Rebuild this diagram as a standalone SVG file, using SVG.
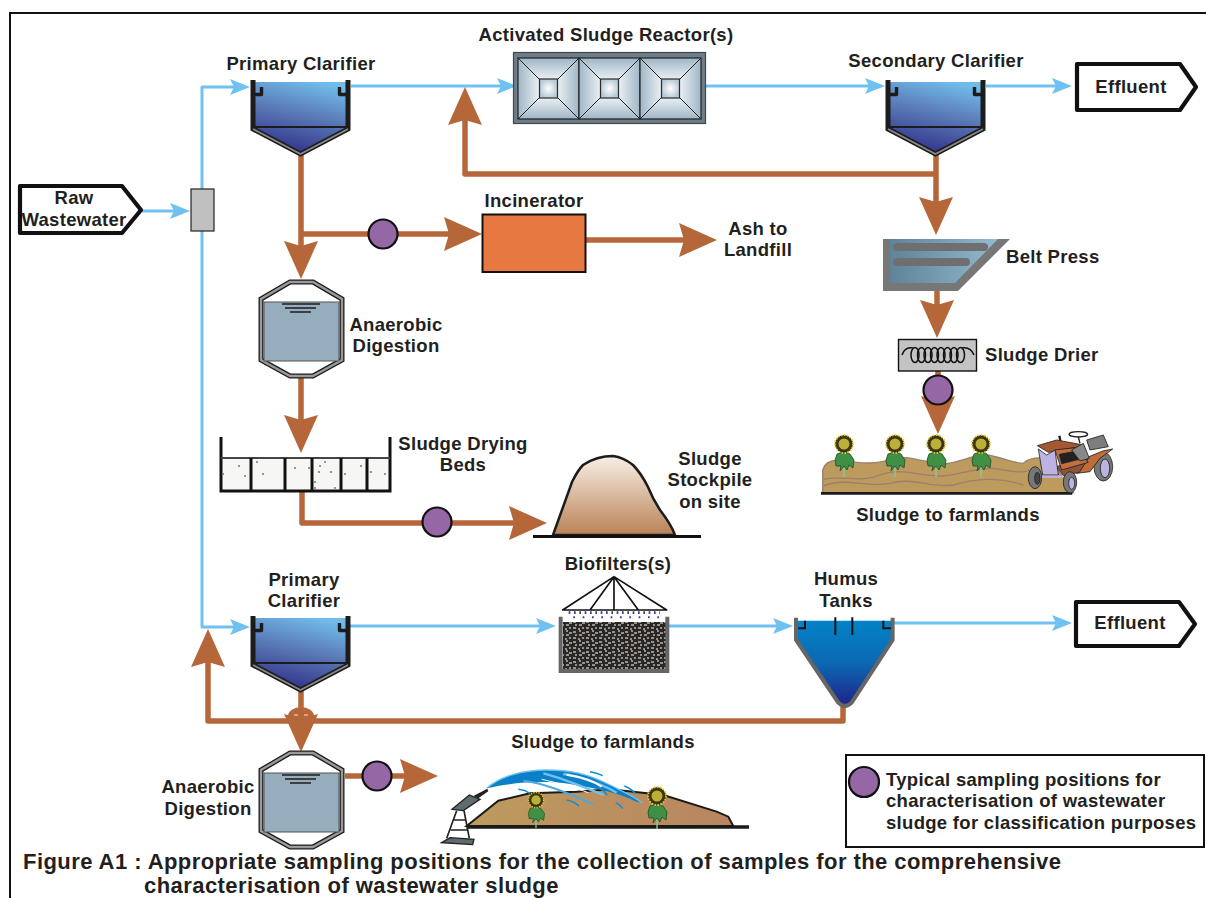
<svg xmlns="http://www.w3.org/2000/svg" width="1206" height="898" viewBox="0 0 1206 898">
<style>
text{font-family:"Liberation Sans",Arial,sans-serif;font-weight:bold;fill:#231f20;font-size:18.5px;letter-spacing:.3px}
.m{text-anchor:middle}
.c{font-size:22px;letter-spacing:.44px}
.b{fill:none;stroke:#b5673a;stroke-width:5.5;stroke-linejoin:round;marker-end:url(#hb)}
.w{fill:none;stroke:#6ec1f0;stroke-width:3;stroke-linejoin:round;marker-end:url(#hw)}
.s{fill:#9567a5;stroke:#111;stroke-width:2.2}
.tag{fill:#fff;stroke:#111;stroke-width:4.2;stroke-linejoin:round}
</style>
<defs>
<marker id="hb" markerUnits="userSpaceOnUse" markerWidth="38" markerHeight="34" refX="5" refY="17" orient="auto"><path d="M0,0 L38,17 L0,34 L5,17Z" fill="#b5673a"/></marker>
<marker id="hw" markerUnits="userSpaceOnUse" markerWidth="20" markerHeight="16" refX="4" refY="8" orient="auto"><path d="M0,0 L20,8 L0,16 L4,8Z" fill="#6ec1f0"/></marker>
<linearGradient id="cl" x1="0.65" y1="0" x2="0.35" y2="1"><stop offset="0" stop-color="#70bbea"/><stop offset=".45" stop-color="#5a79b6"/><stop offset="1" stop-color="#2f2e88"/></linearGradient>
<linearGradient id="hum" x1="0" y1="0" x2="0" y2="1"><stop offset="0" stop-color="#0382c8"/><stop offset=".5" stop-color="#0b69b2"/><stop offset="1" stop-color="#20238a"/></linearGradient>
<linearGradient id="pile" x1="0" y1="0" x2="0" y2="1"><stop offset="0" stop-color="#f8efe6"/><stop offset="1" stop-color="#b98257"/></linearGradient>
<linearGradient id="soil" x1="0" y1="0" x2="1" y2="0"><stop offset="0" stop-color="#bd9b5e"/><stop offset="1" stop-color="#b98560"/></linearGradient>
<linearGradient id="belt" x1="0" y1="0" x2="1" y2="0"><stop offset="0" stop-color="#5f8399"/><stop offset="1" stop-color="#93bacf"/></linearGradient>
<linearGradient id="rl" x1="0" y1="0" x2="1" y2="0"><stop offset="0" stop-color="#9fb6c6"/><stop offset="1" stop-color="#e8eff3"/></linearGradient>
<linearGradient id="rr" x1="1" y1="0" x2="0" y2="0"><stop offset="0" stop-color="#9fb6c6"/><stop offset="1" stop-color="#e8eff3"/></linearGradient>
<linearGradient id="rt" x1="0" y1="0" x2="0" y2="1"><stop offset="0" stop-color="#9fb6c6"/><stop offset="1" stop-color="#e8eff3"/></linearGradient>
<linearGradient id="rb" x1="0" y1="1" x2="0" y2="0"><stop offset="0" stop-color="#9fb6c6"/><stop offset="1" stop-color="#e8eff3"/></linearGradient>
<radialGradient id="rc"><stop offset="0" stop-color="#fff"/><stop offset="1" stop-color="#b9cad5"/></radialGradient>
<pattern id="media" width="13" height="10" patternUnits="userSpaceOnUse"><rect width="13" height="10" fill="#2a2623"/><path d="M1,2h3M7,1h2M10,3h3M3,5h2M7,5h3M1,8h3M6,9h2M10,8h2" stroke="#fff" stroke-width="1"/></pattern>
<g id="clar">
<path d="M4,2 V48 L51.500,74 L99,48 V2Z" fill="url(#cl)"/>
<path d="M4,0 V49 L51.500,74 L99,49 V0" fill="none" stroke="#1c1c1c" stroke-width="5"/>
<path d="M4,49 L51.500,74 L99,49" fill="none" stroke="#8a8a8a" stroke-width="1.8"/>
<path d="M4,47 H99" stroke="#1c1c1c" stroke-width="1.8"/>
<path d="M6,14.500 H12.500 V7" fill="none" stroke="#1c1c1c" stroke-width="3.400" stroke-linejoin="round"/>
<path d="M97,14.500 H90.500 V7" fill="none" stroke="#1c1c1c" stroke-width="3.400" stroke-linejoin="round"/>
</g>
<g id="dig">
<path d="M30,1 H53 L82,18 V79 L53,95 H30 L1,79 V18Z" fill="#fff" stroke="#1c1c1c" stroke-width="5"/>
<path d="M30,1 H53 L82,18 V79 L53,95 H30 L1,79 V18Z" fill="none" stroke="#9a9a9a" stroke-width="2.400"/>
<rect x="4" y="21" width="75" height="59" fill="#95adbd" stroke="#555" stroke-width="1"/>
<path d="M22,23H60M25,27H56M30,31H51" stroke="#1c1c1c" stroke-width="1.3"/>
</g>
<g id="cell">
<polygon points="0,0 21,21 21,40 0,61" fill="url(#rl)"/>
<polygon points="61,0 40,21 40,40 61,61" fill="url(#rr)"/>
<polygon points="0,0 61,0 40,21 21,21" fill="url(#rt)"/>
<polygon points="0,61 61,61 40,40 21,40" fill="url(#rb)"/>
<rect x="21.500" y="21" width="18" height="19" fill="url(#rc)" stroke="#2a2a2a" stroke-width="1.2"/>
<path d="M0,0L21,21M61,0L40,21M0,61L21,40M61,61L40,40" stroke="#222" stroke-width="1"/>
<rect width="61" height="61" fill="none" stroke="#222" stroke-width="1.2"/>
</g>
<g id="flower">
<path d="M0,10V33" stroke="#8ac78f" stroke-width="1.5"/>
<path d="M-1,8 L-7,10 L-9,16 L-8,22 L-3,22 L-4,27 L0,22 L3,26 L5,21 L9,24 L10,16 L6,10 L1,8Z" fill="#3f8f45" stroke="#1f4d27" stroke-width=".8"/>
<circle r="9" fill="#3b3418" stroke="#e5cb2b" stroke-width="1.8" stroke-dasharray="1.5 1.5"/>
<circle r="5.500" fill="#bcb036"/>
</g>
</defs>

<path d="M10,898 V13 H1206" fill="none" stroke="#111" stroke-width="2"/>

<g id="connectors">
<path class="w" d="M142,211H174"/>
<path class="w" d="M202,189V87H234"/>
<path class="w" d="M202,231V627H234"/>
<path class="w" d="M351,86H501"/>
<path class="w" d="M706,86H869"/>
<path class="w" d="M986,86H1056"/>
<path class="w" d="M350,626H540"/>
<path class="w" d="M669,626H777"/>
<path class="w" d="M893,623H1056"/>
<path class="b" d="M301,155V246"/>
<path class="b" d="M301,234H449"/>
<path class="b" d="M586,240H684"/>
<path class="b" d="M936,155V202"/>
<path class="b" d="M936,174H465V120"/>
<path class="b" d="M937,291V305"/>
<path class="b" d="M938,371V401"/>
<path class="b" d="M301,375V420"/>
<path class="b" d="M302,490V523H514"/>
<path class="b" d="M843,707V721H208V662"/>
<ellipse cx="301" cy="716" rx="13" ry="9" fill="#b5673a"/>
<path class="b" d="M301,690V719"/>
<path d="M294,715h4M304,715h4" stroke="#f3e2d6" stroke-width="1"/>
<path class="b" d="M345,776H405"/>
</g>

<g id="raw-wastewater"><polygon class="tag" points="20,186 122,186 141,210 122,233 20,233"/><text class="m" x="74" y="204">Raw</text><text class="m" x="74" y="226">Wastewater</text></g>
<g id="splitter"><rect x="191" y="189" width="23" height="42" fill="#c0c0c0" stroke="#222" stroke-width="1.2"/></g>
<g id="primary-clarifier-1"><use href="#clar" x="249" y="80"/><text class="m" x="301" y="70">Primary Clarifier</text></g>
<g id="reactor"><rect x="513.500" y="52.500" width="192" height="71" fill="#6e7e88" stroke="#3c464c" stroke-width="1.2"/><use href="#cell" x="518" y="58"/><use href="#cell" x="579" y="58"/><use href="#cell" x="640" y="58"/><text class="m" x="606" y="41">Activated Sludge Reactor(s)</text></g>
<g id="secondary-clarifier"><use href="#clar" x="884" y="80"/><text class="m" x="936" y="67">Secondary Clarifier</text></g>
<g id="effluent-1"><polygon class="tag" points="1077,64 1180,64 1196,87 1180,110 1077,110"/><text class="m" x="1131" y="93">Effluent</text></g>
<g id="incinerator"><rect x="482.500" y="214.500" width="103" height="57.500" fill="#e77841" stroke="#111" stroke-width="2"/><text class="m" x="534" y="207">Incinerator</text></g>
<g id="ash"><text class="m" x="758" y="235">Ash to</text><text class="m" x="758" y="256">Landfill</text></g>
<g id="digester-1"><use href="#dig" x="260" y="281"/><text class="m" x="396" y="331">Anaerobic</text><text class="m" x="396" y="352">Digestion</text></g>
<g id="belt-press"><polygon points="883,239 1010,239 958,291 883,291" fill="#777"/><polygon points="890,239 998,239 955,283 890,283" fill="url(#belt)"/><rect x="893" y="243" width="95" height="8" rx="4" fill="#6f6f6f"/><rect x="893" y="258" width="77" height="8" rx="4" fill="#6f6f6f"/><text x="1006" y="263">Belt Press</text></g>
<g id="sludge-drier"><rect x="898.500" y="339.500" width="78" height="31.500" fill="#c3c3c3" stroke="#111" stroke-width="1.4"/>
<g fill="none" stroke="#111" stroke-width="1.5"><ellipse cx="915" cy="355" rx="4" ry="7.500"/><ellipse cx="921.500" cy="355" rx="4" ry="7.500"/><ellipse cx="928" cy="355" rx="4" ry="7.500"/><ellipse cx="934.500" cy="355" rx="4" ry="7.500"/><ellipse cx="941" cy="355" rx="4" ry="7.500"/><ellipse cx="947.500" cy="355" rx="4" ry="7.500"/><ellipse cx="954" cy="355" rx="4" ry="7.500"/><ellipse cx="960.500" cy="355" rx="4" ry="7.500"/><path d="M902,355 C904,349 908,347 913,348M962,348 C968,347 972,350 974,355"/></g>
<text x="985" y="361">Sludge Drier</text></g>
<g id="farm"><g transform="translate(810 420) scale(.3333)">
<path d="M38,218 V150 C45,125 70,118 100,122 C150,130 200,135 250,115 C290,105 330,125 400,132 C450,130 480,105 530,105 C570,110 610,130 640,130 C655,112 690,112 720,115 L790,218Z" fill="#bd9b5e" stroke="#9b8169" stroke-width="4"/>
<path d="M40,178 C100,165 150,190 210,165 C280,140 320,170 400,168 C470,160 520,135 580,150 C620,155 640,160 660,150M40,198 C110,170 170,205 240,190 C310,170 360,205 430,195 C500,175 560,170 640,195" fill="none" stroke="#9b8169" stroke-width="4"/>
<path d="M33,220H787" stroke="#1a1a1a" stroke-width="8"/></g>
<g transform="translate(1020 425) scale(.3333)" stroke="#222" stroke-width="2.500" stroke-linejoin="round">
<ellipse cx="250" cy="125" rx="28" ry="43" fill="#777"/><ellipse cx="255" cy="130" rx="14" ry="28" fill="#bdb3e3"/>
<ellipse cx="175" cy="28" rx="28" ry="8" fill="none" stroke-width="4"/><path d="M175,36 L180,55" fill="none" stroke-width="4"/>
<path d="M118,32 L122,52" fill="none" stroke-width="7"/>
<polygon points="200,45 250,30 265,65 210,75" fill="#7d7d7d"/>
<polygon points="52,62 110,45 190,60 165,68 85,82" fill="#a35733"/>
<polygon points="195,100 248,78 278,72 240,100 210,140 170,145" fill="#bf6c3a"/>
<polygon points="110,125 165,105 205,100 178,142 130,152" fill="#8f5434"/>
<polygon points="105,75 165,68 205,112 125,135" fill="#c0703d"/>
<polygon points="118,88 160,80 178,103 125,116" fill="#222"/>
<polygon points="155,75 190,55 208,100 180,108" fill="#888"/>
<polygon points="55,72 80,90 105,75 115,150 68,150" fill="#bdb3e3"/>
<path d="M60,155H130" stroke="#bdb3e3" stroke-width="7"/>
<ellipse cx="45" cy="158" rx="20" ry="33" fill="#777"/><ellipse cx="52" cy="160" rx="8" ry="18" fill="#444"/>
<ellipse cx="150" cy="172" rx="20" ry="32" fill="#777"/><ellipse cx="155" cy="175" rx="9" ry="18" fill="#bdb3e3"/>
</g>
<use href="#flower" x="844" y="444"/><use href="#flower" x="895" y="444"/><use href="#flower" x="936" y="444"/><use href="#flower" x="981" y="444"/>
<text class="m" x="948" y="521">Sludge to farmlands</text></g>
<g id="drying-beds"><rect x="221" y="458" width="169" height="32" fill="#f6f6f4"/><path d="M221,437V491H390V437" fill="none" stroke="#111" stroke-width="3"/><path d="M221,458H390" stroke="#444" stroke-width="2"/><path d="M251,458V490M285,458V490M312,458V490M341,458V490M367,458V490" stroke="#111" stroke-width="3"/>
<g fill="#777"><circle cx="223" cy="474" r="1"/><circle cx="239" cy="466" r="1"/><circle cx="245" cy="476" r="1"/><circle cx="257" cy="462" r="1"/><circle cx="263" cy="474" r="1"/><circle cx="295" cy="468" r="1"/><circle cx="309" cy="468" r="1"/><circle cx="320" cy="466" r="1"/><circle cx="325" cy="462" r="1"/><circle cx="319" cy="472" r="1"/><circle cx="331" cy="472" r="1"/><circle cx="315" cy="482" r="1"/><circle cx="315" cy="488" r="1"/><circle cx="335" cy="488" r="1"/><circle cx="345" cy="474" r="1"/><circle cx="361" cy="466" r="1"/><circle cx="371" cy="472" r="1"/><circle cx="385" cy="474" r="1"/></g>
<text class="m" x="463" y="450">Sludge Drying</text><text class="m" x="463" y="471">Beds</text></g>
<g id="stockpile"><path d="M553,535 L572,482 C577,472 580,468 583,465 C595,457 605,456 613,456 C622,457 628,461 633,465 C640,472 645,481 648,487 C652,497 656,504 660,510 C667,519 672,527 675,535Z" fill="url(#pile)" stroke="#1c1c1c" stroke-width="2.500"/><path d="M533,536.500H701" stroke="#111" stroke-width="3"/><text class="m" x="710" y="465">Sludge</text><text class="m" x="710" y="486">Stockpile</text><text class="m" x="710" y="508">on site</text></g>
<g id="primary-clarifier-2"><use href="#clar" x="249" y="616"/><text class="m" x="304" y="586">Primary</text><text class="m" x="304" y="607">Clarifier</text></g>
<g id="biofilter"><rect x="563" y="622" width="103" height="48" fill="url(#media)"/><g transform="translate(540 560) scale(.3333)">
<path d="M62,170V333H382V170" fill="none" stroke="#666" stroke-width="12"/>
<path d="M68,150L222,50L380,150ZM150,150L222,50L295,150M222,50V150" fill="none" stroke="#111" stroke-width="5" stroke-linejoin="round"/>
<path d="M86,158H360" stroke="#3a3a90" stroke-width="8" stroke-dasharray="5 11"/><path d="M100,172H360" stroke="#3a3a90" stroke-width="6" stroke-dasharray="5 23"/></g>
<text class="m" x="618" y="570">Biofilters(s)</text></g>
<g id="humus-tank"><g transform="translate(540 560) scale(.3333)"><path d="M770,182H1056V240L935,425Q915,445 895,425L770,240Z" fill="url(#hum)"/>
<path d="M768,173V240L895,428Q915,448 935,428L1058,240V173" fill="none" stroke="#666" stroke-width="12"/>
<path d="M775,205H795V182M1053,205H1030V182" fill="none" stroke="#111" stroke-width="6"/><path d="M886,172V225M937,172V225" stroke="#111" stroke-width="6"/></g>
<text class="m" x="846" y="585">Humus</text><text class="m" x="846" y="607">Tanks</text></g>
<g id="effluent-2"><polygon class="tag" points="1076,602 1179,602 1195,624 1179,646 1076,646"/><text class="m" x="1130" y="629">Effluent</text></g>
<g id="digester-2"><use href="#dig" x="260" y="752"/><text class="m" x="208" y="793">Anaerobic</text><text class="m" x="208" y="815">Digestion</text></g>
<g id="sprayer"><g transform="translate(430 750) scale(.3333)">
<path d="M110,228 L205,152 L300,130 L440,125 L540,118 L700,135 L860,185 L895,200 L910,228Z" fill="url(#soil)" stroke="#1a1a1a" stroke-width="6"/>
<path d="M110,231H957" stroke="#1a1a1a" stroke-width="10"/>
<path d="M130,138 L172,116 L175,124 L145,145Z" fill="#222"/>
<polygon points="66,178 118,135 150,148 100,182" fill="#5e6b6f" stroke="#222" stroke-width="4"/>
<path d="M80,182 L50,265M102,182 L118,265M72,210H108M62,240H115" fill="none" stroke="#222" stroke-width="5"/>
<polygon points="35,278 60,263 132,268 128,284" fill="#5e6b6f" stroke="#222" stroke-width="4"/>
</g>
<use href="#flower" x="536" y="800" transform="translate(536 800) scale(.85) translate(-536 -800)"/><use href="#flower" x="657" y="796"/>
<g transform="translate(470 760) scale(.3333)" fill="none">
<path d="M50,85 C90,48 160,30 230,30 C300,30 350,40 420,75 C460,95 495,110 515,128 L500,125 C450,100 380,85 300,72 C220,60 120,68 50,85Z" fill="#0b80c8"/>
<path d="M50,85 C90,48 160,30 230,30 C300,30 350,40 420,75 C460,95 495,110 515,128" stroke="#6ec1f0" stroke-width="4"/>
<path d="M160,62 C230,70 310,105 370,133" stroke="#4aa8e0" stroke-width="6"/>
<path d="M220,40 C280,55 350,85 400,105" stroke="#6ec1f0" stroke-width="7"/>
<path d="M280,42 C330,48 400,75 440,98" stroke="#6ec1f0" stroke-width="7"/>
<path d="M290,44 C330,50 370,62 395,80" stroke="#fff" stroke-width="6"/>
<path d="M215,58 C270,70 320,85 355,98" stroke="#fff" stroke-width="3"/>
<path d="M360,35 Q380,38 398,47M463,78 Q485,86 497,102M145,88 Q165,90 180,100M385,82 Q402,90 412,105M290,120 Q312,124 327,138M437,128 Q450,134 458,146" stroke="#0d8fd8" stroke-width="4.500"/>
</g>
<text class="m" x="603" y="748">Sludge to farmlands</text></g>
<g id="samples"><circle class="s" cx="383" cy="234" r="14.500"/><circle class="s" cx="938" cy="390" r="14.500"/><circle class="s" cx="437" cy="522" r="14.500"/><circle class="s" cx="377" cy="776" r="14.500"/></g>
<g id="legend"><rect x="846" y="755" width="358" height="92" fill="#fff" stroke="#111" stroke-width="2"/><circle class="s" cx="864" cy="782" r="15"/><text x="886" y="786">Typical sampling positions for</text><text x="886" y="807">characterisation of wastewater</text><text x="886" y="829">sludge for classification purposes</text></g>
<g id="caption"><text class="c" x="23" y="869">Figure A1 : Appropriate sampling positions for the collection of samples for the comprehensive</text><text class="c" x="144" y="893">characterisation of wastewater sludge</text></g>
</svg>
